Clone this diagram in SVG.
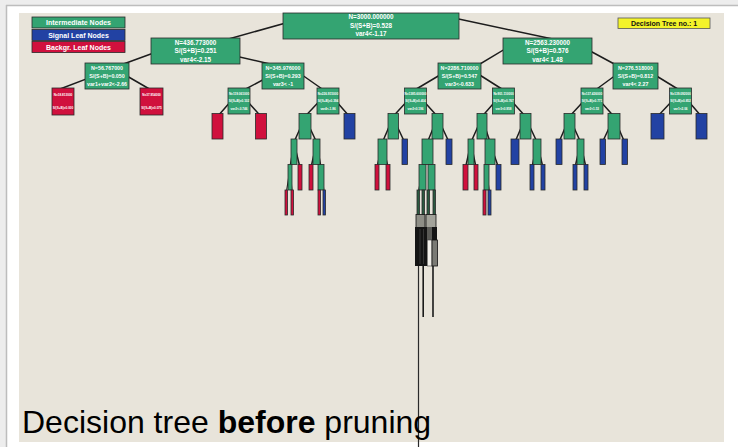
<svg xmlns="http://www.w3.org/2000/svg" width="738" height="447" viewBox="0 0 738 447">
<style>
.n{stroke:#2a2a2a;stroke-width:0.8}
.g{fill:#34a472}
.b{fill:#2242a3}
.r{fill:#d0103d}
.k{fill:#2a5a40}
.t{font-family:"Liberation Sans",Arial,sans-serif;font-weight:bold;fill:#fff;text-anchor:middle}
.t1{font-size:6.3px}
.t2{font-size:5.3px}
.t3{font-size:3.1px}
.e{stroke:#1c1c1c;stroke-width:1.5;fill:none;stroke-linecap:round}
.ed{stroke:#1c1c1c;stroke-width:1.1;fill:none}
</style>
<rect x="0" y="0" width="738" height="447" fill="#ffffff"/>
<rect x="0" y="0" width="738" height="5" fill="#ededed"/>
<rect x="0" y="0" width="6" height="447" fill="#ededed"/>
<line x1="6" y1="5.5" x2="738" y2="5.5" stroke="#bdbdbd" stroke-width="1.5"/>
<line x1="6.5" y1="5" x2="6.5" y2="447" stroke="#bdbdbd" stroke-width="1.5"/>
<rect x="19" y="13" width="705" height="429" fill="#e8e4da"/>

<g id="connectors">
<line class="e" x1="300" y1="19" x2="225" y2="40"/>
<line class="e" x1="440" y1="15" x2="555" y2="39.5"/>
<line class="e" x1="170" y1="47" x2="107" y2="70"/>
<line class="e" x1="220" y1="52.5" x2="283" y2="67"/>
<line class="e" x1="515" y1="43" x2="470" y2="70"/>
<line class="e" x1="580" y1="45.5" x2="630" y2="72.5"/>
<line class="e" x1="95" y1="75.6" x2="60" y2="89"/>
<line class="e" x1="120" y1="72" x2="152" y2="90.5"/>
<line class="e" x1="270" y1="76" x2="242" y2="91"/>
<line class="e" x1="295" y1="70" x2="325" y2="91"/>
<line class="e" x1="445" y1="72" x2="413" y2="91"/>
<line class="e" x1="475" y1="72" x2="505" y2="91"/>
<line class="e" x1="620" y1="72" x2="594" y2="91"/>
<line class="e" x1="650" y1="72" x2="681" y2="91"/>
<line class="e" x1="239" y1="92" x2="217.5" y2="116.5"/>
<line class="e" x1="239" y1="92" x2="261" y2="116.5"/>
<line class="e" x1="328" y1="92" x2="305" y2="116.5"/>
<line class="e" x1="328" y1="92" x2="349.5" y2="116.5"/>
<line class="e" x1="415.5" y1="92" x2="393" y2="116.5"/>
<line class="e" x1="415.5" y1="92" x2="437.5" y2="116.5"/>
<line class="e" x1="503.5" y1="92" x2="482" y2="116.5"/>
<line class="e" x1="503.5" y1="92" x2="525.5" y2="116.5"/>
<line class="e" x1="592" y1="92" x2="569.5" y2="116.5"/>
<line class="e" x1="592" y1="92" x2="614" y2="116.5"/>
<line class="e" x1="680.5" y1="92" x2="657.5" y2="116.5"/>
<line class="e" x1="680.5" y1="92" x2="701.5" y2="116.5"/>
<line class="e" x1="305" y1="117.5" x2="294" y2="142"/>
<line class="e" x1="305" y1="117.5" x2="316.5" y2="142"/>
<line class="e" x1="393" y1="117.5" x2="382.5" y2="142"/>
<line class="e" x1="393" y1="117.5" x2="404.5" y2="142"/>
<line class="e" x1="437.5" y1="117.5" x2="427.5" y2="142"/>
<line class="e" x1="437.5" y1="117.5" x2="449" y2="142"/>
<line class="e" x1="482" y1="117.5" x2="471" y2="142"/>
<line class="e" x1="482" y1="117.5" x2="490" y2="142"/>
<line class="e" x1="525.5" y1="117.5" x2="515" y2="142"/>
<line class="e" x1="525.5" y1="117.5" x2="537" y2="142"/>
<line class="e" x1="569.5" y1="117.5" x2="559" y2="142"/>
<line class="e" x1="569.5" y1="117.5" x2="580.5" y2="142"/>
<line class="e" x1="614" y1="117.5" x2="602.5" y2="142"/>
<line class="e" x1="614" y1="117.5" x2="624.5" y2="142"/>
<line class="e" x1="294" y1="143" x2="290" y2="167.5"/>
<line class="e" x1="294" y1="143" x2="300" y2="167.5"/>
<line class="e" x1="316.5" y1="143" x2="311" y2="167.5"/>
<line class="e" x1="316.5" y1="143" x2="321" y2="167.5"/>
<line class="e" x1="382.5" y1="143" x2="377" y2="167.5"/>
<line class="e" x1="382.5" y1="143" x2="388" y2="167.5"/>
<line class="e" x1="427.5" y1="143" x2="422.5" y2="167.5"/>
<line class="e" x1="427.5" y1="143" x2="431.5" y2="167.5"/>
<line class="e" x1="471" y1="143" x2="465.5" y2="167.5"/>
<line class="e" x1="471" y1="143" x2="476" y2="167.5"/>
<line class="e" x1="490" y1="143" x2="486.5" y2="167.5"/>
<line class="e" x1="490" y1="143" x2="498.5" y2="167.5"/>
<line class="e" x1="537" y1="143" x2="532" y2="167.5"/>
<line class="e" x1="537" y1="143" x2="543" y2="167.5"/>
<line class="e" x1="580.5" y1="143" x2="575" y2="167.5"/>
<line class="e" x1="580.5" y1="143" x2="586" y2="167.5"/>
<line class="ed" x1="290" y1="168.5" x2="286.25" y2="193"/>
<line class="ed" x1="290" y1="168.5" x2="292.25" y2="193"/>
<line class="ed" x1="321" y1="168.5" x2="319.25" y2="193"/>
<line class="ed" x1="321" y1="168.5" x2="324.25" y2="193"/>
<line class="ed" x1="486.5" y1="168.5" x2="484.5" y2="193"/>
<line class="ed" x1="486.5" y1="168.5" x2="489.5" y2="193"/>
<line class="ed" x1="422.5" y1="168.5" x2="418.25" y2="193"/>
<line class="ed" x1="422.5" y1="168.5" x2="423.25" y2="193"/>
<line class="ed" x1="431.5" y1="168.5" x2="428.25" y2="193"/>
<line class="ed" x1="431.5" y1="168.5" x2="434.25" y2="193"/>
<line x1="418.5" y1="262" x2="418.5" y2="447" stroke="#2a2a2a" stroke-width="1.2"/>
<line x1="423.2" y1="262" x2="423.2" y2="317" stroke="#1a1a1a" stroke-width="1.6"/>
<line x1="433" y1="262" x2="433" y2="317" stroke="#1a1a1a" stroke-width="1.6"/>
</g>

<g id="legend">
<rect class="n g" x="32" y="17" width="93" height="11"/>
<text class="t" x="78.5" y="25" font-size="7">Intermediate Nodes</text>
<rect class="n b" x="32" y="29.5" width="93" height="11"/>
<text class="t" x="78.5" y="37.5" font-size="7">Signal Leaf Nodes</text>
<rect class="n r" x="32" y="41.5" width="93" height="11"/>
<text class="t" x="78.5" y="49.5" font-size="7">Backgr. Leaf Nodes</text>
</g>

<g id="title">
<rect x="618" y="18" width="92" height="10.5" fill="#f3f32a" stroke="#555" stroke-width="0.8"/>
<text x="664" y="25.8" font-family="Liberation Sans, Arial, sans-serif" font-weight="bold" font-size="7" text-anchor="middle" fill="#111">Decision Tree no.: 1</text>
</g>

<g id="n0"><rect class="n g" x="283" y="13" width="176" height="26"/>
<text class="t t1" x="371" y="19.3">N=3000.000000</text>
<text class="t t1" x="371" y="27.8">S/(S+B)=0.528</text>
<text class="t t1" x="371" y="36.3">var4&lt;-1.17</text></g>

<g id="nA"><rect class="n g" x="151" y="38" width="89" height="26"/>
<text class="t t1" x="195.5" y="44.9">N=436.773000</text>
<text class="t t1" x="195.5" y="53.2">S/(S+B)=0.251</text>
<text class="t t1" x="195.5" y="61.5">var4&lt;-2.15</text></g>

<g id="nB"><rect class="n g" x="503" y="38" width="89" height="26"/>
<text class="t t1" x="547.5" y="44.9">N=2563.230000</text>
<text class="t t1" x="547.5" y="53.2">S/(S+B)=0.576</text>
<text class="t t1" x="547.5" y="61.5">var4&lt; 1.48</text></g>

<g id="nA1"><rect class="n g" x="85" y="63" width="44" height="26"/>
<text class="t t2" x="107" y="69.9">N=56.767000</text>
<text class="t t2" x="107" y="77.9">S/(S+B)=0.050</text>
<text class="t t2" x="107" y="86">var1+var2&lt;-2.66</text></g>

<g id="nA2"><rect class="n g" x="262" y="63" width="42" height="26"/>
<text class="t t2" x="283" y="69.9">N=345.976000</text>
<text class="t t2" x="283" y="77.9">S/(S+B)=0.293</text>
<text class="t t2" x="283" y="86">var3&lt;  -1</text></g>

<g id="nB1"><rect class="n g" x="438" y="63" width="43" height="26"/>
<text class="t t2" x="459.5" y="69.9">N=2286.710000</text>
<text class="t t2" x="459.5" y="77.9">S/(S+B)=0.547</text>
<text class="t t2" x="459.5" y="86">var3&lt;-0.633</text></g>

<g id="nB2"><rect class="n g" x="613" y="63" width="45" height="26"/>
<text class="t t2" x="635.5" y="69.9">N=276.518000</text>
<text class="t t2" x="635.5" y="77.9">S/(S+B)=0.812</text>
<text class="t t2" x="635.5" y="86">var4&lt; 2.27</text></g>

<g id="nA1a"><rect class="n r" x="52" y="88" width="22" height="27"/>
<text class="t t3" x="63" y="95.5">N=18.813000</text>
<text class="t t3" x="63" y="109">S/(S+B)=0.000</text></g>
<g id="nA1b"><rect class="n r" x="140" y="88" width="23" height="27"/>
<text class="t t3" x="151.5" y="95.5">N=37.954000</text>
<text class="t t3" x="151.5" y="109">S/(S+B)=0.075</text></g>
<g id="nA2a"><rect class="n g" x="228" y="88" width="22" height="26"/>
<text class="t t3" x="239" y="94.5">N=119.061000</text>
<text class="t t3" x="239" y="102">S/(S+B)=0.102</text>
<text class="t t3" x="239" y="109.5">var2&lt;-0.746</text></g>
<g id="nA2b"><rect class="n g" x="317" y="88" width="22" height="26"/>
<text class="t t3" x="328" y="94.5">N=226.915000</text>
<text class="t t3" x="328" y="102">S/(S+B)=0.394</text>
<text class="t t3" x="328" y="109.5">var4&lt;-1.86</text></g>
<g id="nB1a"><rect class="n g" x="404.5" y="88" width="22" height="26"/>
<text class="t t3" x="415.5" y="94.5">N=1385.600000</text>
<text class="t t3" x="415.5" y="102">S/(S+B)=0.404</text>
<text class="t t3" x="415.5" y="109.5">var2&lt;0.196</text></g>
<g id="nB1b"><rect class="n g" x="492.5" y="88" width="22" height="26"/>
<text class="t t3" x="503.5" y="94.5">N=901.110000</text>
<text class="t t3" x="503.5" y="102">S/(S+B)=0.767</text>
<text class="t t3" x="503.5" y="109.5">var3&lt;0.958</text></g>
<g id="nB2a"><rect class="n g" x="581" y="88" width="22" height="26"/>
<text class="t t3" x="592" y="94.5">N=137.426000</text>
<text class="t t3" x="592" y="102">S/(S+B)=0.771</text>
<text class="t t3" x="592" y="109.5">var2&lt;1.53</text></g>
<g id="nB2b"><rect class="n g" x="669.5" y="88" width="22" height="26"/>
<text class="t t3" x="680.5" y="94.5">N=139.092000</text>
<text class="t t3" x="680.5" y="102">S/(S+B)=0.852</text>
<text class="t t3" x="680.5" y="109.5">var1&lt;2.06</text></g>

<g id="n4a"><rect class="n r" x="212" y="113.5" width="11" height="25.5"/></g>
<g id="n4b"><rect class="n r" x="255.5" y="113.5" width="11" height="25.5"/></g>
<g id="n4c"><rect class="n g" x="299" y="113.5" width="12" height="25.5"/></g>
<g id="n4d"><rect class="n b" x="344" y="113.5" width="11" height="25.5"/></g>
<g id="n4e"><rect class="n g" x="388" y="113.5" width="10.5" height="25.5"/></g>
<g id="n4f"><rect class="n g" x="432" y="113.5" width="11" height="25.5"/></g>
<g id="n4g"><rect class="n g" x="477" y="113.5" width="10" height="25.5"/></g>
<g id="n4h"><rect class="n g" x="520" y="113.5" width="11" height="25.5"/></g>
<g id="n4i"><rect class="n g" x="564" y="113.5" width="11" height="25.5"/></g>
<g id="n4j"><rect class="n g" x="608" y="113.5" width="12" height="25.5"/></g>
<g id="n4k"><rect class="n b" x="651" y="113.5" width="13" height="25.5"/></g>
<g id="n4l"><rect class="n b" x="696" y="113.5" width="11" height="25.5"/></g>

<g id="n5a"><rect class="n g" x="291" y="139" width="6" height="25.5"/></g>
<g id="n5b"><rect class="n g" x="313" y="139" width="7" height="25.5"/></g>
<g id="n5c"><rect class="n g" x="378" y="139" width="9" height="25.5"/></g>
<g id="n5d"><rect class="n b" x="402" y="139" width="5.5" height="25.5"/></g>
<g id="n5e"><rect class="n g" x="422" y="139" width="11" height="25.5"/></g>
<g id="n5f"><rect class="n b" x="446" y="139" width="6" height="25.5"/></g>
<g id="n5g"><rect class="n g" x="468" y="139" width="6" height="25.5"/></g>
<g id="n5h"><rect class="n g" x="485" y="139" width="10" height="25.5"/></g>
<g id="n5i"><rect class="n b" x="511" y="139" width="8" height="25.5"/></g>
<g id="n5j"><rect class="n g" x="533" y="139" width="8" height="25.5"/></g>
<g id="n5k"><rect class="n b" x="556" y="139" width="6" height="25.5"/></g>
<g id="n5l"><rect class="n g" x="577" y="139" width="7" height="25.5"/></g>
<g id="n5m"><rect class="n b" x="600" y="139" width="5.5" height="25.5"/></g>
<g id="n5n"><rect class="n b" x="622" y="139" width="5.5" height="25.5"/></g>

<g id="n6a"><rect class="n g" x="288" y="164.5" width="4" height="25.5"/></g>
<g id="n6b"><rect class="n r" x="298" y="164.5" width="4" height="25.5"/></g>
<g id="n6c"><rect class="n r" x="309" y="164.5" width="4" height="25.5"/></g>
<g id="n6d"><rect class="n g" x="318" y="164.5" width="6" height="25.5"/></g>
<g id="n6e"><rect class="n r" x="375" y="164.5" width="4" height="25.5"/></g>
<g id="n6f"><rect class="n r" x="386" y="164.5" width="4" height="25.5"/></g>
<g id="n6g"><rect class="n g" x="419" y="164.5" width="7" height="25.5"/></g>
<g id="n6h"><rect class="n g" x="428" y="164.5" width="7" height="25.5"/></g>
<g id="n6i"><rect class="n r" x="463" y="164.5" width="5" height="25.5"/></g>
<g id="n6j"><rect class="n r" x="474" y="164.5" width="4" height="25.5"/></g>
<g id="n6k"><rect class="n g" x="484" y="164.5" width="5" height="25.5"/></g>
<g id="n6l"><rect class="n b" x="496" y="164.5" width="5" height="25.5"/></g>
<g id="n6m"><rect class="n b" x="530" y="164.5" width="4" height="25.5"/></g>
<g id="n6n"><rect class="n b" x="541" y="164.5" width="4" height="25.5"/></g>
<g id="n6o"><rect class="n b" x="573" y="164.5" width="4" height="25.5"/></g>
<g id="n6p"><rect class="n b" x="584" y="164.5" width="4" height="25.5"/></g>

<g id="n7a"><rect class="n r" x="285" y="190" width="2.5" height="25"/></g>
<g id="n7b"><rect class="n r" x="291" y="190" width="2.5" height="25"/></g>
<g id="n7c"><rect class="n r" x="318" y="190" width="2.5" height="25"/></g>
<g id="n7d"><rect class="n b" x="323" y="190" width="2.5" height="25"/></g>
<g id="n7e"><rect class="n r" x="483" y="190" width="3" height="25"/></g>
<g id="n7f"><rect class="n b" x="488" y="190" width="3" height="25"/></g>
<g id="n7g"><rect class="n k" x="417" y="190" width="2.5" height="25"/></g>
<g id="n7h"><rect class="n k" x="422" y="190" width="2.5" height="25"/></g>
<g id="n7i"><rect class="n k" x="427" y="190" width="2.5" height="25"/></g>
<g id="n7j"><rect class="n k" x="433" y="190" width="2.5" height="25"/></g>

<g id="deep">
<rect x="416" y="214.5" width="9" height="13" fill="#8e8e86" stroke="#111" stroke-width="0.8"/>
<rect x="426" y="214.5" width="10" height="13" fill="#a3a39a" stroke="#111" stroke-width="0.8"/>
<rect x="415" y="227" width="12" height="39" fill="#141414"/>
<rect x="427" y="227" width="5" height="13" fill="#5a5a56"/>
<rect x="432" y="227" width="5" height="13" fill="#141414"/>
<rect x="427.5" y="240" width="4.5" height="26" fill="#f2f0ea" stroke="#444" stroke-width="0.6"/>
<rect x="432" y="240" width="5.5" height="26" fill="#7a7a74" stroke="#111" stroke-width="0.8"/>
<line x1="420" y1="229" x2="420" y2="264" stroke="#555" stroke-width="0.5"/>
<line x1="423.5" y1="229" x2="423.5" y2="264" stroke="#555" stroke-width="0.5"/>
</g>

<g id="caption">
<text x="22" y="433" font-family="Liberation Sans, Arial, sans-serif" font-size="32" fill="#000">Decision tree <tspan font-weight="bold">before</tspan> pruning</text>
</g>
</svg>
